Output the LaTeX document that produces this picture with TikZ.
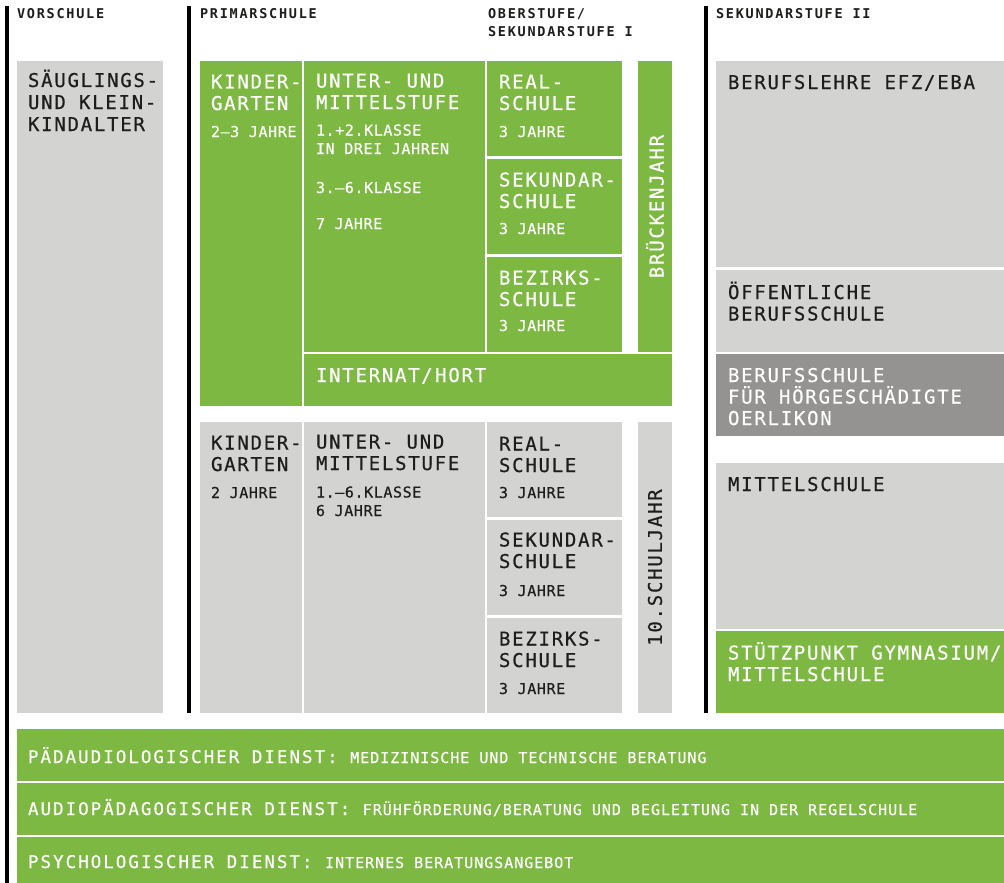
\documentclass[tikz,border=0pt]{standalone}
\usepackage{fontspec}
\newfontfamily\fbigfam[LetterSpace=9.2,FakeBold=0.5]{DejaVu Sans Mono}
\newfontfamily\fsmallfam[LetterSpace=4,FakeBold=0.4]{DejaVu Sans Mono}
\newfontfamily\fbsmallfam[LetterSpace=6.5,FakeBold=0.4]{DejaVu Sans Mono}
\newfontfamily\fheadfam[LetterSpace=13]{DejaVu Sans Mono}
\newfontfamily\fbotfam[LetterSpace=11.5,FakeBold=0.5]{DejaVu Sans Mono}
\newcommand\fbig{\fbigfam\fontsize{19}{21.5}\selectfont}
\newcommand\fbigx{\fbigfam\fontsize{19}{22}\selectfont}
\newcommand\fsmall{\fsmallfam\fontsize{15}{18.5}\selectfont}
\newcommand\fbsmall{\fbsmallfam\fontsize{15}{18.5}\selectfont}
\newcommand\fhead{\fheadfam\bfseries\fontsize{13.5}{18}\selectfont}
\newcommand\fbot{\fbotfam\fontsize{17.5}{20}\selectfont}
\definecolor{grn}{RGB}{125,184,66}
\definecolor{lgray}{RGB}{211,211,210}
\definecolor{dgray}{RGB}{148,147,145}
\definecolor{ink}{RGB}{29,29,27}
\tikzset{
  box/.style={draw=none,inner sep=0pt,outer sep=0pt,anchor=north west},
  gbox/.style={box,fill=grn},
  lbox/.style={box,fill=lgray},
  dbox/.style={box,fill=dgray},
  txt/.style={inner sep=0pt,outer sep=0pt,anchor=base west,align=left},
  wtxt/.style={txt,text=white},
  ktxt/.style={txt,text=ink},
}
% last-line baseline is given for multi-line texts
\newcommand\bx[6]{\node[#6,minimum width={(#4-(#2))*1pt},minimum height={(#5-(#3))*1pt}] (#1) at (#2,#3) {};}
\begin{document}
\begin{tikzpicture}[x=1pt,y=-1pt]
\useasboundingbox[fill=white] (0,0) rectangle (1004,883);
% column bars
\fill[black] (5,6) rectangle (9,883);
\fill[black] (187,6) rectangle (191,713);
\fill[black] (704,6) rectangle (708,713);
% headers
\node[ktxt,font=\fhead] (hv) at (17,19) {VORSCHULE};
\node[ktxt,font=\fhead] (hp) at (200,19) {PRIMARSCHULE};
\node[ktxt,font=\fhead] (ho) at (488,37) {OBERSTUFE/\\SEKUNDARSTUFE I};
\node[ktxt,font=\fhead] (hs) at (716,19) {SEKUNDARSTUFE II};
% Vorschule
\bx{vor}{17}{61}{163}{713}{lbox}
\node[ktxt,font=\fbigx] (vort) at (28,131) {SÄUGLINGS-\\UND KLEIN-\\KINDALTER};
% top (green) block
\bx{kgA}{200}{61}{302}{406}{gbox}
\bx{umA}{304}{61}{485}{352}{gbox}
\bx{reA}{487}{61}{622}{156}{gbox}
\bx{seA}{487}{159}{622}{254}{gbox}
\bx{bzA}{487}{257}{622}{352}{gbox}
\bx{brA}{638}{61}{672}{352}{gbox}
\bx{inA}{304}{354}{672}{406}{gbox}
\node[wtxt,font=\fbig] (kgAt) at (211,110) {KINDER-\\GARTEN};
\node[wtxt,font=\fsmall] (kgAs) at (211,137) {2–3 JAHRE};
\node[wtxt,font=\fbig] (umAt) at (316,109) {UNTER- UND\\MITTELSTUFE};
\node[wtxt,font=\fsmall] (umAs) at (316,154) {1.+2.KLASSE\\IN DREI JAHREN};
\node[wtxt,font=\fsmall] (umAs2) at (316,193) {3.–6.KLASSE};
\node[wtxt,font=\fsmall] (umAs3) at (316,229) {7 JAHRE};
\node[wtxt,font=\fbig] (reAt) at (499,110) {REAL-\\SCHULE};
\node[wtxt,font=\fsmall] (reAs) at (499,137) {3 JAHRE};
\node[wtxt,font=\fbig] (seAt) at (499,208) {SEKUNDAR-\\SCHULE};
\node[wtxt,font=\fsmall] (seAs) at (499,234) {3 JAHRE};
\node[wtxt,font=\fbig] (bzAt) at (499,306) {BEZIRKS-\\SCHULE};
\node[wtxt,font=\fsmall] (bzAs) at (499,331) {3 JAHRE};
\node[wtxt,font=\fbig] (inAt) at (316,382) {INTERNAT\kern1.5pt/\kern2.5pt HORT};
\node[text=white,font=\fbig,rotate=90,inner sep=0pt] (brAt) at (brA.center) {BRÜCKENJAHR};
% lower (gray) block
\bx{kgB}{200}{422}{302}{713}{lbox}
\bx{umB}{304}{422}{485}{713}{lbox}
\bx{reB}{487}{422}{622}{517}{lbox}
\bx{seB}{487}{520}{622}{615}{lbox}
\bx{bzB}{487}{618}{622}{713}{lbox}
\bx{zsB}{638}{422}{672}{713}{lbox}
\node[ktxt,font=\fbig] (kgBt) at (211,471) {KINDER-\\GARTEN};
\node[ktxt,font=\fsmall] (kgBs) at (211,498) {2 JAHRE};
\node[ktxt,font=\fbig] (umBt) at (316,470) {UNTER- UND\\MITTELSTUFE};
\node[ktxt,font=\fsmall] (umBs) at (316,516) {1.–6.KLASSE\\6 JAHRE};
\node[ktxt,font=\fbig] (reBt) at (499,472) {REAL-\\SCHULE};
\node[ktxt,font=\fsmall] (reBs) at (499,498) {3 JAHRE};
\node[ktxt,font=\fbig] (seBt) at (499,568) {SEKUNDAR-\\SCHULE};
\node[ktxt,font=\fsmall] (seBs) at (499,596) {3 JAHRE};
\node[ktxt,font=\fbig] (bzBt) at (499,667) {BEZIRKS-\\SCHULE};
\node[ktxt,font=\fsmall] (bzBs) at (499,694) {3 JAHRE};
\node[text=ink,font=\fbig,rotate=90,inner sep=0pt] (zsBt) at (zsB.center) {10.SCHULJAHR};
% Sekundarstufe II
\bx{bl}{716}{61}{1004}{267}{lbox}
\bx{ob}{716}{270}{1004}{352}{lbox}
\bx{bh}{716}{354}{1004}{436}{dbox}
\bx{ms}{716}{463}{1004}{629}{lbox}
\bx{sg}{716}{631}{1004}{713}{gbox}
\node[ktxt,font=\fbig] (blt) at (728,89) {BERUFSLEHRE EFZ/EBA};
\node[ktxt,font=\fbig] (obt) at (728,320.5) {ÖFFENTLICHE\\BERUFSSCHULE};
\node[wtxt,font=\fbig] (bht) at (728,425) {BERUFSSCHULE\\FÜR HÖRGESCHÄDIGTE\\OERLIKON};
\node[ktxt,font=\fbig] (mst) at (728,491) {MITTELSCHULE};
\node[wtxt,font=\fbig] (sgt) at (728,681) {STÜTZPUNKT GYMNASIUM/\\MITTELSCHULE};
% services
\bx{d1}{17}{729}{1004}{781}{gbox}
\bx{d2}{17}{783}{1004}{835}{gbox}
\bx{d3}{17}{837}{1004}{883}{gbox}
\node[wtxt,font=\fbot] (d1t) at (28,763) {PÄDAUDIOLOGISCHER DIENST: {\fbsmall MEDIZINISCHE UND TECHNISCHE BERATUNG}};
\node[wtxt,font=\fbot] (d2t) at (28,815) {AUDIOPÄDAGOGISCHER DIENST: {\fbsmall FRÜHFÖRDERUNG/BERATUNG UND BEGLEITUNG IN DER REGELSCHULE}};
\node[wtxt,font=\fbot] (d3t) at (28,868) {PSYCHOLOGISCHER DIENST: {\fbsmall INTERNES BERATUNGSANGEBOT}};
\end{tikzpicture}
\end{document}
